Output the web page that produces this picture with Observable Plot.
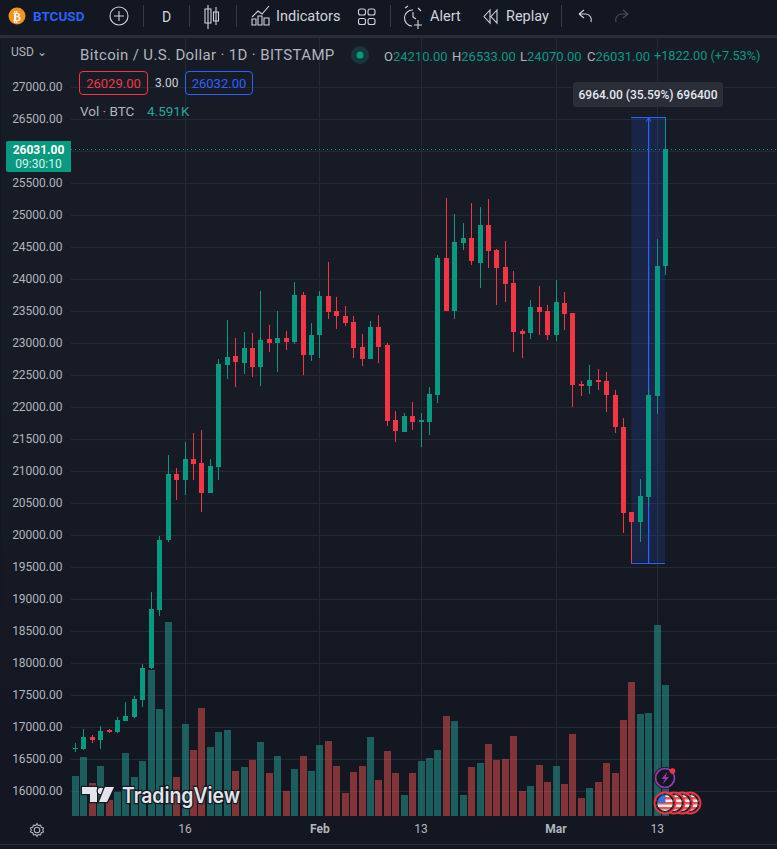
<!DOCTYPE html>
<html><head><meta charset="utf-8">
<script src="https://cdn.jsdelivr.net/npm/d3@7"></script>
<script src="https://cdn.jsdelivr.net/npm/@observablehq/plot@0.6"></script>
<style>
html,body{margin:0;padding:0;background:#131722}
body{width:777px;height:849px;position:relative;overflow:hidden;font-family:Roboto,sans-serif;color:#d1d4dc}
.t{position:absolute;white-space:nowrap;line-height:1}
.sep{position:absolute;top:5px;width:1px;height:22px;background:#363a45}
#chart{position:absolute;left:0;top:38px}
#chart svg{display:block;background:transparent}
.box{position:absolute;box-sizing:border-box;height:24px;border:1px solid;border-radius:4px;display:flex;align-items:center;justify-content:center;font-size:13px}
</style></head><body>
<div style="position:absolute;left:0;top:35px;width:777px;height:3px;background:#2a2e39"></div>
<div style="position:absolute;left:1px;top:38px;width:776px;height:811px;background:linear-gradient(#171b26,#171b26 45%,#131722 85%)"></div>
<div id="chart"></div>
<div style="position:absolute;left:0;top:844px;width:777px;height:1px;background:#2a2e39"></div>

<!-- toolbar -->
<svg style="position:absolute;left:0;top:0" width="777" height="35" fill="none" stroke="#d1d4dc" stroke-width="1.1">
  <circle cx="17" cy="16" r="8.5" fill="#f7931a" stroke="none"/>
  <text x="17" y="20.5" text-anchor="middle" font-size="12" font-weight="700" fill="#fff" stroke="none" font-family="Roboto">₿</text>
  <circle cx="119" cy="16" r="9"/><path d="M119 11v10M114 16h10"/>
  <path d="M209 5v24M209 9h-3v14h6v-14zM217 7v18M214.500 12h5v9h-5z" transform="translate(-1,0)"/>
  <path d="M252 17l6-6 4 3 7-8M252 25h4v-6h-4zM258 25h4v-9h-4zM264 25h5v-7h-5z"/>
  <rect x="358.500" y="9" width="7" height="6" rx="2"/><rect x="368" y="9" width="7" height="6" rx="2"/>
  <rect x="358.500" y="18.500" width="7" height="6" rx="2"/><rect x="368" y="18.500" width="7" height="6" rx="2"/>
  <path d="M413 10a8 8 0 1 0-1 16M413 12v5l3 2M405 8l3-2M418 8l3 3M418 20v9M414 25h8"/>
  <path d="M490 10l-6 6.500 6 6.500zM497 10l-6 6.500 6 6.500z"/>
  <path d="M579 14l5-4M579 14l5 4M579 14h7a6 6 0 0 1 5 8"/>
  <path d="M628 14l-5-4M628 14l-5 4M628 14h-7a6 6 0 0 0-5 8" stroke="#4a4e59"/>
</svg>
<div class="sep" style="left:143px"></div><div class="sep" style="left:189px"></div>
<div class="sep" style="left:236px"></div><div class="sep" style="left:390px"></div>
<div class="sep" style="left:561px"></div>
<div class="t" style="left:33px;top:9.500px;font-size:13.500px;font-weight:700;color:#2962ff">BTCUSD</div>
<div class="t" style="left:162px;top:10px;font-size:14px;font-weight:400">D</div>
<div class="t" style="left:276px;top:9.500px;font-size:14.500px;font-weight:400">Indicators</div>
<div class="t" style="left:430px;top:9.500px;font-size:14.500px;font-weight:400">Alert</div>
<div class="t" style="left:506px;top:9.500px;font-size:14.500px;font-weight:400">Replay</div>

<!-- pane header -->
<div class="t" style="left:11px;top:46px;font-size:12px;color:#b2b5be">USD ⌄</div>
<div class="t" style="left:80px;top:48px;font-size:15px;letter-spacing:.35px;color:#b2b5be">Bitcoin / U.S. Dollar · 1D · BITSTAMP</div>
<svg style="position:absolute;left:349px;top:44px" width="22" height="22"><circle cx="11" cy="11" r="9" fill="#17363a"/><circle cx="11" cy="11" r="3.500" fill="#089981"/></svg>
<div class="t" style="left:384px;top:50px;font-size:13px;color:#b2b5be">O<span style="color:#089981">24210.00</span></div>
<div class="t" style="left:452px;top:50px;font-size:13px;color:#b2b5be">H<span style="color:#089981">26533.00</span></div>
<div class="t" style="left:520px;top:50px;font-size:13px;color:#b2b5be">L<span style="color:#089981">24070.00</span></div>
<div class="t" style="left:587px;top:50px;font-size:13px;color:#b2b5be">C<span style="color:#089981">26031.00</span></div>
<div class="t" style="left:654px;top:50px;font-size:12.700px;color:#089981">+1822.00 (+7.53%)</div>
<div class="box" style="left:79px;top:71px;width:69px;border-color:#f23645;color:#f23645">26029.00</div>
<div class="t" style="left:155px;top:77px;font-size:12px;color:#d1d4dc">3.00</div>
<div class="box" style="left:185px;top:71px;width:68px;border-color:#2962ff;color:#2962ff">26032.00</div>
<div class="t" style="left:80px;top:105px;font-size:13.500px;color:#b2b5be">Vol · BTC</div>
<div class="t" style="left:147px;top:105px;font-size:13.500px;color:#26a69a">4.591K</div>

<!-- last price tag -->
<div style="position:absolute;left:6px;top:141px;width:65px;height:31px;background:#089981;border-radius:2px 0 0 2px;text-align:center">
  <div class="t" style="left:0;width:65px;top:3px;font-size:12px;font-weight:700;color:#fff">26031.00</div>
  <div class="t" style="left:0;width:65px;top:16.500px;font-size:12px;color:#d9f2ec">09:30:10</div>
</div>
<!-- measure tooltip -->
<div style="position:absolute;left:573px;top:82px;width:150px;height:25px;background:#2a2e39;border-radius:3px;display:flex;align-items:center;justify-content:center;font-size:12px;font-weight:500;color:#e6e8ee">6964.00 (35.59%) 696400</div>

<!-- watermark -->
<svg style="position:absolute;left:75px;top:775px;overflow:visible" width="175" height="40">
  <g fill="#e3e5ec" stroke="#161a25" stroke-width="2.500" paint-order="stroke">
    <path d="M7 12h15v15h-7v-8h-8z"/><circle cx="26" cy="16" r="3.200"/><path d="M30 12h9l-7 15h-8z"/>
    <text x="47" y="28" font-family="Inter,Roboto,sans-serif" font-size="21" font-weight="600" textLength="118" lengthAdjust="spacingAndGlyphs">TradingView</text>
  </g>
</svg>
<!-- gear -->
<svg style="position:absolute;left:28px;top:821px" width="18" height="18" fill="none" stroke="#b2b5be" stroke-width="1.100">
  <circle cx="9" cy="9" r="2.800"/><path d="M9 2.500l1.200 2 2.300-.4.800 2.200 2.200.8-.7 1.900.7 1.900-2.200.8-.8 2.200-2.300-.4-1.200 2-1.200-2-2.300.4-.8-2.200-2.200-.8.7-1.900-.7-1.900 2.200-.8.800-2.200 2.300.4z"/>
</svg>
<!-- events -->
<svg style="position:absolute;left:645px;top:760px" width="65" height="60">
  <defs>
    <clipPath id="fc"><circle cx="0" cy="0" r="9"/></clipPath>
    <g id="flag">
      <circle r="10.500" fill="#131722" stroke="#f23645" stroke-width="1.800"/>
      <g clip-path="url(#fc)">
        <rect x="-9" y="-9" width="18" height="18" fill="#eef0f4"/>
        <path d="M-9-6h18v2.500H-9zM-9-1h18v2.500H-9zM-9 4h18v2.500H-9z" fill="#ef5350"/>
        <rect x="-9" y="-9" width="9.500" height="9" fill="#3d6fd8"/>
      </g>
      <circle r="8.500" fill="none" stroke="#131722" stroke-width="1.200"/>
    </g>
  </defs>
  <circle cx="20" cy="18" r="10" fill="#131722" stroke="#131722" stroke-width="2"/>
  <circle cx="20" cy="18" r="9.500" fill="#131722" stroke="#9c39b3" stroke-width="1.700"/>
  <path d="M22.500 11.500l-6 7.500h3.500l-2.500 5.500 6.500-7.500h-3.500z" fill="#9c39b3"/>
  <circle cx="27.500" cy="11" r="2.800" fill="#f23645"/>
  <use href="#flag" x="45" y="43"/><use href="#flag" x="37" y="43"/><use href="#flag" x="29" y="43"/><use href="#flag" x="20" y="43"/>
</svg>

<script>
const firstDay = new Date(Date.UTC(2023, 0, 3));
const opens  = [16650,16662,16849,16802,16945,16927,17099,17162,17427,17927,18833,19927,20958,20865,21193,21130,20662,21068,22662,22802,22693,22927,22630,23068,23005,23083,23021,23755,22818,23130,23740,23505,23427,23333,22943,22755,23255,22974,21802,21615,21865,21781,21771,22193,24333,23505,24568,24646,24255,24849,24458,24193,23943,23193,23161,23568,23505,23130,23630,23474,22365,22333,22427,22411,22193,21693,20365,20208,20599,22177,24210];
const highs  = [16750,16969,16870,17021,16974,17156,17396,17490,17990,19115,19990,21255,21052,21458,21599,21646,21193,22755,23365,23083,23177,23161,23818,23286,23505,23193,23958,23802,23318,23818,24271,23724,23583,23427,23146,23349,23443,23005,21943,21911,22083,21901,22318,24380,25271,25021,24880,25193,25125,25250,24474,24599,24130,23224,23677,23896,23599,23990,23802,23474,22411,22661,22599,22552,22271,21833,20365,20880,22271,24630,26533];
const lows   = [16604,16646,16755,16662,16912,16912,17090,17146,17318,17912,18729,19896,20552,20630,20865,20365,20662,20865,22443,22318,22521,22474,22333,22865,22552,22896,22990,22505,22724,22771,23380,23224,23271,22771,22646,22755,22693,21708,21458,21615,21646,21380,21568,22068,23505,23380,24458,24224,23865,24177,23599,23646,22865,22771,23068,23130,23052,23036,23208,22005,22177,22208,22271,21927,21599,20037,19569,19896,20458,21896,24070];
const closes = [16670,16849,16802,16943,16935,17115,17177,17443,17927,18849,19927,20958,20865,21193,21115,20662,21083,22677,22787,22708,22927,22630,23052,23005,23083,23021,23755,22818,23130,23740,23490,23427,23318,22927,22755,23255,22943,21787,21630,21865,21771,21787,22208,24333,23505,24583,24646,24286,24849,24443,24177,23927,23177,23146,23568,23490,23130,23646,23458,22349,22333,22427,22396,22193,21693,20349,20208,20615,22193,24208,26031];
const volumes = [1402,2068,1156,1752,561,841,2208,1367,1927,5116,3749,6798,1367,3224,2313,3784,2418,2943,3013,1577,1717,1962,2593,1507,2102,876,1647,2102,1577,2488,2628,1752,806,1542,1752,2768,1261,2278,1507,736,1507,1927,2032,2313,3504,3329,736,1717,1857,2523,1962,1997,2803,876,1051,1787,1191,1752,1121,2873,631,981,1191,1857,1507,3364,4695,3574,3609,6693,4591];
const priceTicks = d3.range(16000, 27001, 500);
const dayTicks = [new Date(Date.UTC(2023,0,16)), new Date(Date.UTC(2023,1,13)), new Date(Date.UTC(2023,2,13))];
const monthTicks = [new Date(Date.UTC(2023,1,1)), new Date(Date.UTC(2023,2,1))];
const lastPrice = 26031, measureLow = 19569, measureHigh = 26533;
const measureFrom = new Date(Date.UTC(2023,2,10)), measureTo = new Date(Date.UTC(2023,2,14)), measureMid = new Date(Date.UTC(2023,2,12));

const rows = opens.map((o,i)=>({date:d3.utcDay.offset(firstDay,i),o,h:highs[i],l:lows[i],c:closes[i],v:volumes[i],up:closes[i]>=o}));
const up = rows.filter(d=>d.up), down = rows.filter(d=>!d.up);
const floorPrice = 15609.4, volUnit = 0.4458;            // volume pane shares the price scale
const volY = v => floorPrice + v*volUnit;
const GREEN="#089981", RED="#f23645", GRID="#252933", BLUE="#2962ff";
const crisp = {shapeRendering:"crispEdges"};

const candle = (data,color) => [
  Plot.ruleX(data,{x:"date",y1:"l",y2:"h",stroke:color,strokeWidth:1,...crisp}),
  Plot.ruleX(data,{x:"date",y1:d=>Math.min(d.o,d.c)-(Math.abs(d.o-d.c)<20?8:0),y2:d=>Math.max(d.o,d.c)+(Math.abs(d.o-d.c)<20?8:0),stroke:color,strokeWidth:5,...crisp})
];

const chart = Plot.plot({
  width:777,height:811,marginLeft:71,marginRight:0,marginTop:0,marginBottom:33,
  style:{background:"transparent",fontFamily:"Roboto,sans-serif",fontSize:"12px",overflow:"visible"},
  x:{type:"utc",domain:[new Date(Date.UTC(2023,0,2,12,55)),new Date(Date.UTC(2023,2,27,6,25))]},
  y:{domain:[floorPrice,27765.6]},
  marks:[
    Plot.ruleY(priceTicks,{stroke:GRID,strokeWidth:1,...crisp}),
    Plot.ruleX([...dayTicks,...monthTicks],{stroke:GRID,strokeWidth:1,...crisp}),
    Plot.ruleX(up,{x:"date",y1:floorPrice,y2:d=>volY(d.v),stroke:"#26a69a",strokeOpacity:.5,strokeWidth:7,...crisp}),
    Plot.ruleX(down,{x:"date",y1:floorPrice,y2:d=>volY(d.v),stroke:"#ef5350",strokeOpacity:.5,strokeWidth:7,...crisp}),
    Plot.rect([0],{x1:()=>measureFrom,x2:()=>measureTo,y1:()=>measureLow,y2:()=>measureHigh,fill:BLUE,fillOpacity:.15}),
    Plot.ruleY([measureLow,measureHigh],{x1:measureFrom,x2:measureTo,stroke:BLUE,strokeWidth:1,...crisp}),
    Plot.arrow([0],{x1:()=>measureMid,x2:()=>measureMid,y1:()=>measureLow,y2:()=>measureHigh,bend:false,stroke:BLUE,strokeWidth:1,headLength:7}),
    Plot.ruleX([measureMid],{y1:measureLow,y2:measureHigh,stroke:BLUE,strokeWidth:1,...crisp}),
    Plot.ruleY([lastPrice],{stroke:GREEN,strokeWidth:1,strokeDasharray:"1,3",...crisp}),
    ...candle(up,GREEN),...candle(down,RED),
    Plot.axisY(priceTicks.filter(p=>p!==26000),{anchor:"left",tickSize:0,tickPadding:9,tickFormat:d=>d.toFixed(2),fill:"#b2b5be",fontSize:12,label:null}),
    Plot.axisX(dayTicks,{anchor:"bottom",tickSize:0,tickPadding:8,tickFormat:d=>String(d.getUTCDate()),fill:"#b2b5be",fontSize:12,label:null}),
    Plot.axisX(monthTicks,{anchor:"bottom",tickSize:0,tickPadding:8,tickFormat:d3.utcFormat("%b"),fill:"#b2b5be",fontSize:12,fontWeight:700,label:null})
  ]
});
document.getElementById("chart").appendChild(chart);
</script>
</body></html>
